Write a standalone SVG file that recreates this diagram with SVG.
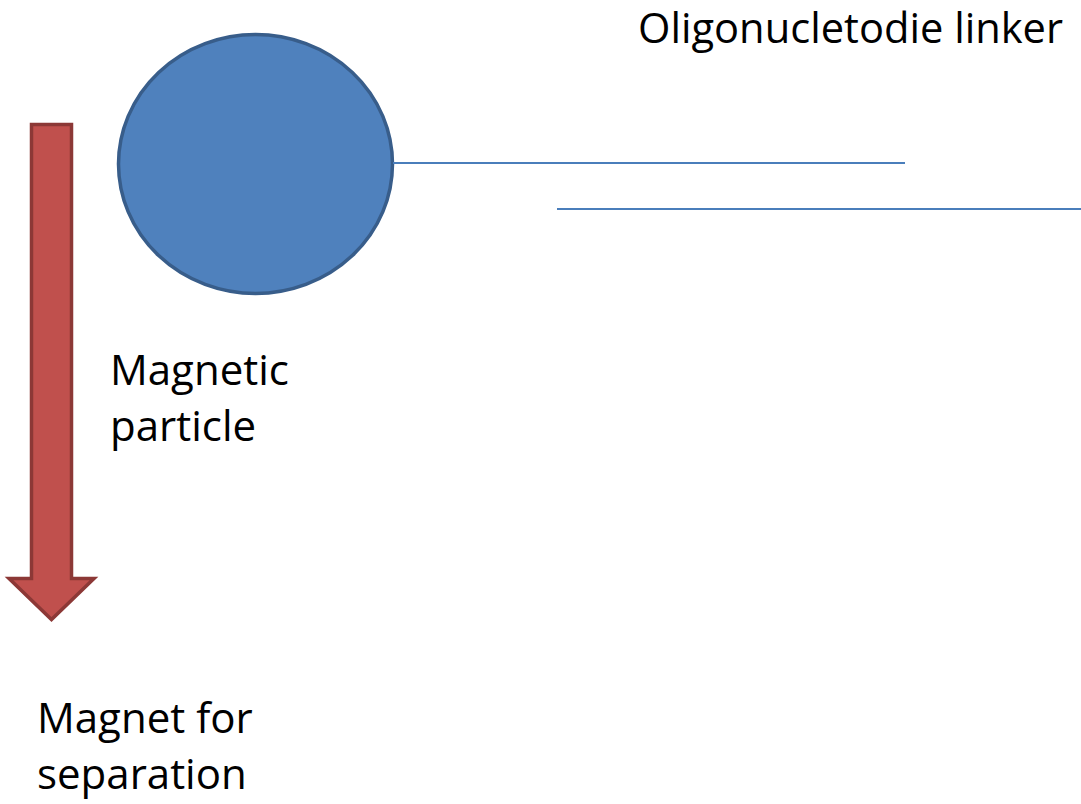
<svg xmlns="http://www.w3.org/2000/svg" width="1081" height="804" viewBox="0 0 1081 804">
<style>
text{font-family:"Open Sans","Liberation Sans",sans-serif;font-size:42px;fill:#000}
.ln{stroke:#4A7EBB;stroke-width:2;fill:none}
</style>
<rect width="1081" height="804" fill="#fff"/>
<g id="magnet-arrow">
<path d="M31.5,124.5 H71.5 V578.5 H94 L51.5,619.5 L9,578.5 H31.5 Z" fill="#C0504D" stroke="#8C3836" stroke-width="3.5" stroke-linejoin="miter"/>
</g>
<g id="particle">
<ellipse cx="255.5" cy="164" rx="137" ry="129.5" fill="#4F81BD" stroke="#385D8A" stroke-width="3.5"/>
</g>
<g id="connectors">
<line class="ln" x1="393" y1="163" x2="905" y2="163"/>
<line class="ln" x1="557" y1="209" x2="1081" y2="209"/>
</g>
<g id="label-linker"><text x="638" y="43" textLength="425" lengthAdjust="spacingAndGlyphs">Oligonucletodie linker</text></g>
<g id="label-particle"><text x="110" y="385">Magnetic</text><text x="110" y="441">particle</text></g>
<g id="label-magnet"><text x="37" y="733">Magnet for</text><text x="37" y="789">separation</text></g>
</svg>
